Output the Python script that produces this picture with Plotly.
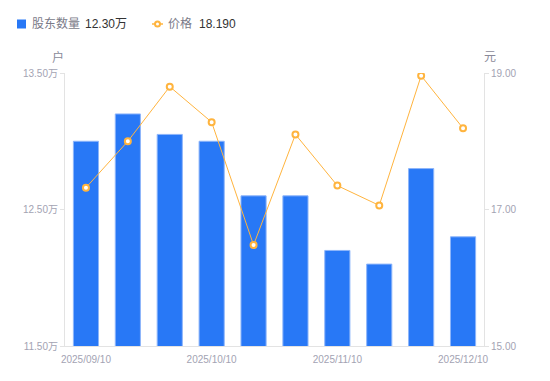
import plotly.graph_objects as go

dates = ["2025/09/10", "2025/09/20", "2025/09/30", "2025/10/10", "2025/10/20",
         "2025/10/31", "2025/11/10", "2025/11/20", "2025/11/30", "2025/12/10"]
holders_wan = [13.00, 13.20, 13.05, 13.00, 12.60, 12.60, 12.20, 12.10, 12.80, 12.30]
price = [17.32, 18.00, 18.80, 18.28, 16.48, 18.10, 17.35, 17.06, 18.96, 18.19]
x_tick_labels = ["2025/09/10", "2025/10/10", "2025/11/10", "2025/12/10"]
left_ticks = [11.5, 12.5, 13.5]
right_ticks = [15.0, 17.0, 19.0]

BLUE = "#2878f6"
ORANGE = "#ffb43e"
GREY = "#a3a3b3"
FONT = "Liberation Sans, Noto Sans CJK SC, sans-serif"

# plot area in window pixels: x 65..484, y 73..346 (page body has 8px margin)
PX0, PX1, PY0, PY1 = 65, 484, 73, 346
PW, PH = PX1 - PX0, PY1 - PY0


def px(x):
    return (x - PX0) / PW


def py(y):
    return (PY1 - y) / PH


fig = go.Figure()
fig.add_trace(go.Bar(
    x=dates, y=holders_wan, name="股东数量", width=0.6,
    marker=dict(color=BLUE, line=dict(color="#8db5fa", width=1)),
    hoverinfo="skip",
))
fig.add_trace(go.Scatter(
    x=dates, y=price, name="价格", yaxis="y2", mode="lines+markers",
    line=dict(color=ORANGE, width=1),
    marker=dict(symbol="circle", size=6, color="white", line=dict(color=ORANGE, width=2)),
    hoverinfo="skip",
))

fig.update_layout(
    width=542, height=373,
    margin=dict(l=PX0 - 8, r=550 - PX1, t=PY0 - 8, b=381 - PY1),
    paper_bgcolor="white", plot_bgcolor="white",
    showlegend=False,
    font=dict(family=FONT, size=10, color=GREY),
    xaxis=dict(
        type="category", tickvals=x_tick_labels, ticktext=x_tick_labels,
        range=[-0.5, 9.5], showgrid=False, showline=True, linecolor="#e3e3e3",
        linewidth=1, ticks="outside", ticklen=4, tickcolor="rgba(0,0,0,0)",
        tickfont=dict(size=10, color=GREY), zeroline=False,
    ),
    yaxis=dict(
        range=[11.5, 13.5], tickvals=left_ticks,
        ticktext=[f"{v:.2f}万" for v in left_ticks],
        showgrid=False, showline=True, linecolor="#e3e3e3", linewidth=1,
        ticks="outside", ticklen=4, tickcolor="#e3e3e3",
        tickfont=dict(size=10, color=GREY), zeroline=False,
    ),
    yaxis2=dict(
        range=[15.0, 19.0], tickvals=right_ticks,
        ticktext=[f"{v:.2f}" for v in right_ticks],
        overlaying="y", side="right",
        showgrid=False, showline=True, linecolor="#e3e3e3", linewidth=1,
        ticks="outside", ticklen=4, tickcolor="#e3e3e3",
        tickfont=dict(size=10, color=GREY), zeroline=False,
    ),
)

# axis unit titles
fig.add_annotation(xref="paper", yref="paper", x=px(58), y=py(57),
                   text="户", showarrow=False, xanchor="center", yanchor="middle",
                   font=dict(size=12, color="#8a8a99"))
fig.add_annotation(xref="paper", yref="paper", x=px(490), y=py(57),
                   text="元", showarrow=False, xanchor="center", yanchor="middle",
                   font=dict(size=12, color="#8a8a99"))

# custom legend
ly = py(24)
fig.add_shape(type="rect", xref="paper", yref="paper",
              x0=px(17), x1=px(26), y0=py(28.5), y1=py(19.5),
              fillcolor=BLUE, line=dict(width=0))
fig.add_annotation(xref="paper", yref="paper", x=px(30), y=ly,
                   text="股东数量", showarrow=False, xanchor="left", yanchor="middle",
                   font=dict(size=12, color="#7a7a88"))
fig.add_annotation(xref="paper", yref="paper", x=px(83), y=ly,
                   text=f"{holders_wan[-1]:.2f}万", showarrow=False, xanchor="left",
                   yanchor="middle", font=dict(size=12, color="#333333"))
fig.add_shape(type="line", xref="paper", yref="paper",
              x0=px(152), x1=px(163), y0=ly, y1=ly,
              line=dict(color=ORANGE, width=1.5))
fig.add_shape(type="circle", xref="paper", yref="paper",
              x0=px(155), x1=px(160), y0=py(26.5), y1=py(21.5),
              fillcolor="white", line=dict(color=ORANGE, width=2))
fig.add_annotation(xref="paper", yref="paper", x=px(166), y=ly,
                   text="价格", showarrow=False, xanchor="left", yanchor="middle",
                   font=dict(size=12, color="#7a7a88"))
fig.add_annotation(xref="paper", yref="paper", x=px(197), y=ly,
                   text=f"{price[-1]:.3f}", showarrow=False, xanchor="left",
                   yanchor="middle", font=dict(size=12, color="#333333"))

fig.write_html("out.html")
